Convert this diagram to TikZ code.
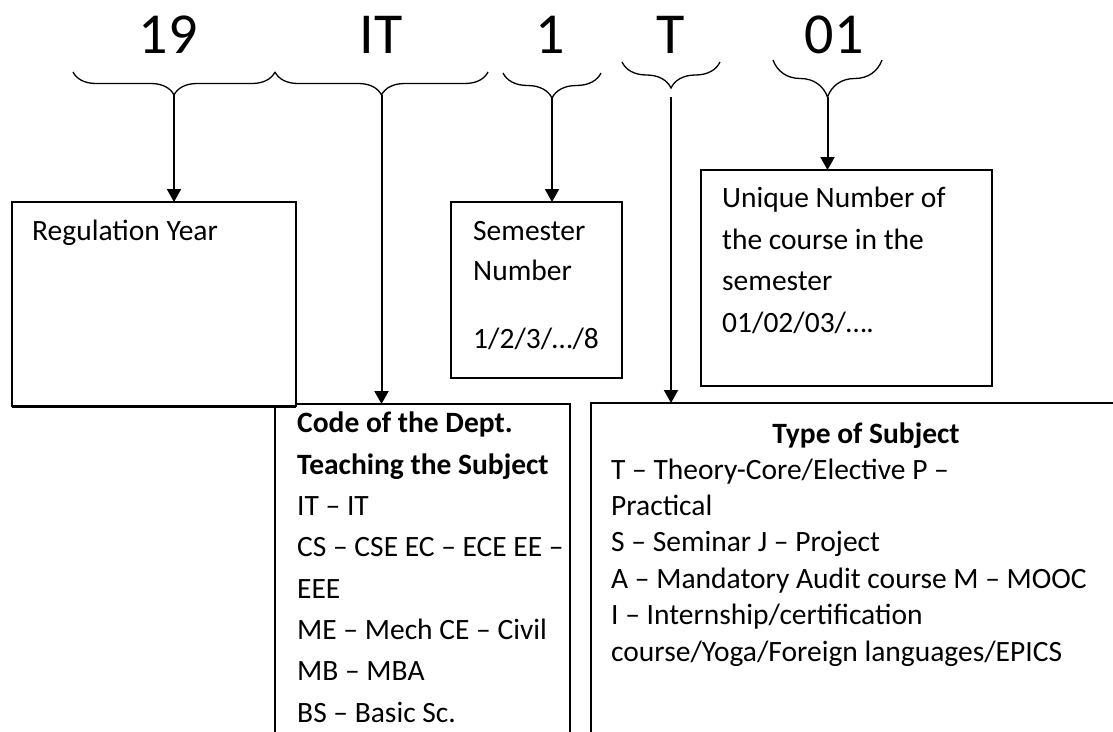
\documentclass[tikz,border=0pt]{standalone}
\usepackage{fontspec}
\setmainfont{Carlito}
\usetikzlibrary{arrows.meta,decorations.pathreplacing}
\tikzset{
  digit/.style={font=\fontsize{58}{70}\selectfont, anchor=base, inner sep=0pt},
  txt/.style={font=\fontsize{29.5}{41}\selectfont, align=left, inner sep=0pt, anchor=base west},
  box/.style={draw, line width=2pt, fill=white, inner sep=0pt, outer sep=0pt, anchor=north west},
  openbox/.style={box, line width=1.5pt},
  curly/.style={decorate, decoration={brace, amplitude=#1}, line width=1.3pt},
  pointer/.style={line width=2pt, -{Triangle[width=14pt, length=13pt]}}
}
\begin{document}
\begin{tikzpicture}[x=1pt, y=-1pt]
  \useasboundingbox (0,0) rectangle (1113,731);
  \clip (0,0) rectangle (1113,731);
  % code digits
  \node[digit] (d19) at (168,53) {19};
  \node[digit] (dIT) at (381,53) {IT};
  \node[digit] (d1) at (550,53) {1};
  \node[digit] (dT) at (671,53) {T};
  \node[digit] (d01) at (834,53) {01};
  % braces
  \draw[curly=23pt] (275,72) -- (73,72);
  \draw[curly=23pt] (488,72) -- (275,72);
  \draw[curly=25pt] (601,73) -- (503,73);
  \draw[curly=26pt] (720,62) -- (622,62);
  \draw[curly=37pt] (882,60) -- (773,60);
  \coordinate (b19) at (174,95);
  \coordinate (bIT) at (381.5,95);
  \coordinate (b1) at (552,98);
  \coordinate (bT) at (671,97);
  \coordinate (b01) at (827.5,97);
  % boxes
  \node[openbox, minimum width=295pt, minimum height=380pt] (dept) at (275,404) {};
  \node[openbox, minimum width=560pt, minimum height=380pt] (type) at (591,403) {};
  \node[box, minimum width=284pt, minimum height=204pt] (year) at (12,202) {};
  \draw[line width=3pt] (year.south west) -- (year.south east);
  \node[box, minimum width=171pt, minimum height=176pt] (sem) at (451,202) {};
  \node[box, minimum width=291pt, minimum height=216pt] (uniq) at (701,170) {};
  % texts (multi-line nodes sit on their last baseline)
  \node[txt] (yeartxt) at (32,240) {Regulation Year};
  \node[txt, font=\fontsize{29.5}{40}\selectfont] (semtxt) at (473,348) {Semester\\Number\\[28pt]1/2/3/…/8};
  \node[txt, font=\fontsize{29.5}{41.5}\selectfont] (uniqtxt) at (722,332) {Unique Number of\\the course in the\\semester\\01/02/03/….};
  \node[txt, font=\fontsize{29.5}{41.3}\selectfont] (depttxt) at (297,722) {\textbf{Code of the Dept.}\\\textbf{Teaching the Subject}\\IT – IT\\CS – CSE EC – ECE EE –\\EEE\\ME – Mech CE – Civil\\MB – MBA\\BS – Basic Sc.};
  \node[txt, anchor=base] (typetitle) at (866,443) {\textbf{Type of Subject}};
  \node[txt, font=\fontsize{29.5}{36.4}\selectfont] (typetxt) at (611,661) {T – Theory-Core/Elective P –\\Practical\\S – Seminar J – Project\\A – Mandatory Audit course M – MOOC\\I – Internship/certification\\course/Yoga/Foreign languages/EPICS};
  % connectors
  \draw[pointer] (b19) -- (b19 |- year.north);
  \draw[pointer] (bIT) -- (bIT |- dept.north);
  \draw[pointer] (b1) -- (b1 |- sem.north);
  \draw[pointer] (bT) -- (bT |- type.north);
  \draw[pointer] (b01) -- (b01 |- uniq.north);
\end{tikzpicture}
\end{document}
